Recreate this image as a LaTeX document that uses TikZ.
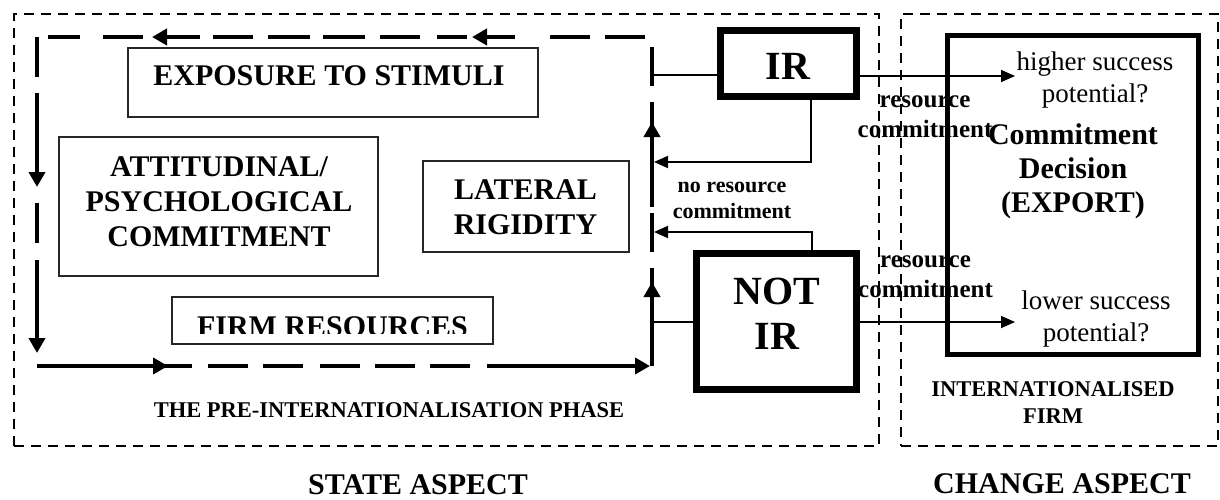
\documentclass[tikz,border=0pt]{standalone}
\usepackage{fontspec}
\setmainfont{Liberation Serif}
\usetikzlibrary{arrows.meta}
\begin{document}
\begin{tikzpicture}[x=1pt,y=-1pt,
  phaseframe/.style={draw,line width=2.8pt,dash pattern=on 10pt off 7pt,inner sep=0pt,minimum height=432pt},
  loopdash/.style={line width=4.4pt},
  looparrow/.style={line width=4.4pt,-{Triangle[length=15pt,width=16pt]}},
  factorbox/.style={draw=black!85,line width=1.8pt,inner sep=0pt},
  factortext/.style={font=\fontsize{30}{35}\selectfont\bfseries,align=center,inner sep=0pt},
  statebox/.style={draw,line width=7pt,inner sep=0pt},
  statetext/.style={font=\fontsize{40}{45}\selectfont\bfseries,align=center,inner sep=0pt},
  decisionbox/.style={draw,line width=5pt,inner sep=0pt},
  link/.style={line width=1.8pt},
  linkarrow/.style={line width=1.8pt,-{Triangle[length=14pt,width=12pt]}},
  flowlabel/.style={font=\fontsize{25}{30}\selectfont\bfseries,align=center,inner sep=0pt},
  outcome/.style={font=\fontsize{27}{32}\selectfont,align=center,inner sep=0pt},
  decisiontext/.style={font=\fontsize{30}{34}\selectfont\bfseries,align=center,inner sep=0pt},
  phasetext/.style={font=\fontsize{22.5}{27}\selectfont\bfseries,align=center,inner sep=0pt},
  aspecttext/.style={font=\fontsize{30}{35}\selectfont\bfseries,inner sep=0pt}
]
\useasboundingbox (0,0) rectangle (1220,500);

% the two phases
\node[phaseframe,minimum width=865pt] (statephase) at (446.5,230) {};
\node[phaseframe,minimum width=317pt] (changephase) at (1059.5,230) {};

% state factors of the pre-internationalisation firm
\node[factorbox,minimum width=410pt,minimum height=69pt] (stimuli) at (333,82.5) {};
\node[factortext] (stimulitext) at (329,76) {EXPOSURE TO STIMULI};
\node[factorbox,minimum width=319pt,minimum height=139pt] (attitude) at (218.5,206.5) {};
\node[factortext] (attitudetext) at (219,201.5) {ATTITUDINAL/\\PSYCHOLOGICAL\\COMMITMENT};
\node[factorbox,minimum width=206pt,minimum height=91pt] (lateral) at (526,206.5) {};
\node[factortext] (lateraltext) at (525.5,207.5) {LATERAL\\RIGIDITY};
\node[factorbox,minimum width=321pt,minimum height=47pt] (resources) at (332.5,320.5) {};
\begin{scope}
  \clip (150,290) rectangle (510,333.5);
  \node[factortext,anchor=base] (resourcestext) at (332.5,336) {FIRM RESOURCES};
\end{scope}

% feedback loop around the state factors
\foreach \a/\b in {48/80,103/143,213/253,268/310,323/365,380/420,437/467,550/590,605/645}
  \draw[loopdash] (\a,37) -- (\b,37);
\draw[looparrow] (200,37) -- (152,37);
\draw[looparrow] (515,37) -- (472,37);
\draw[loopdash] (37,37) -- (37,77);
\draw[looparrow] (37,93) -- (37,187);
\draw[loopdash] (37,203) -- (37,243);
\draw[looparrow] (37,260) -- (37,353);
\draw[loopdash] (37,366) -- (192,366);
\draw[looparrow] (37,366) -- (168,366);
\foreach \a/\b in {208/248,263/303,320/360,375/415,430/470}
  \draw[loopdash] (\a,366) -- (\b,366);
\draw[looparrow] (487,366) -- (650,366);
\draw[loopdash] (652,47) -- (652,86);
\draw[loopdash] (652,102) -- (652,207);
\draw[looparrow] (652,207) -- (652,122);
\draw[loopdash] (652,213) -- (652,252);
\draw[loopdash] (652,268) -- (652,366);
\draw[looparrow] (652,366) -- (652,282);

% points where the decisions join the loop
\coordinate (irjoin) at (653,75);
\coordinate (irback) at (654,162);
\coordinate (nrback) at (654,232);
\coordinate (nrjoin) at (653,322);
\coordinate (hiy) at (0,76);
\coordinate (loy) at (0,322);
\coordinate (hitip) at (1015,76);
\coordinate (lotip) at (1015,322);

% internationalisation readiness
\node[statebox,minimum width=136pt,minimum height=66pt] (IR) at (788.5,63.5) {};
\node[statetext] (irtext) at (788,66.5) {IR};
\node[statebox,minimum width=160pt,minimum height=136pt] (notir) at (776.5,321.5) {};
\node[statetext] (notirtext) at (777,314) {NOT\\IR};

% commitment decision
\node[decisionbox,minimum width=251pt,minimum height=319pt] (decision) at (1073,195) {};
\node[outcome] (higher) at (1095,80) {higher success\\potential?};
\node[decisiontext] (decisiontext) at (1073,171) {Commitment\\Decision\\(EXPORT)};
\node[outcome] (lower) at (1096,319) {lower success\\potential?};

% connectors
\draw[link] (IR.west |- irjoin) -- (irjoin);
\draw[linkarrow] ([xshift=22.5pt]IR.south) |- (irback);
\draw[linkarrow] ([xshift=35.5pt]notir.north) |- (nrback);
\draw[link] (notir.west |- nrjoin) -- (nrjoin);
\draw[linkarrow] (IR.east |- hiy) -- (hitip);
\draw[linkarrow] (notir.east |- loy) -- (lotip);

% connector labels
\node[flowlabel] (rcup) at (925,117) {resource\\commitment};
\node[flowlabel] (rclow) at (925.5,277) {resource\\commitment};
\node[flowlabel,font=\fontsize{22}{26}\selectfont\bfseries] (norc) at (732,200) {no resource\\commitment};

% phase captions
\node[phasetext] (prephase) at (389,410.5) {THE PRE-INTERNATIONALISATION PHASE};
\node[phasetext] (intfirm) at (1053,402.5) {INTERNATIONALISED\\FIRM};
\node[aspecttext] (stateaspect) at (418,485) {STATE ASPECT};
\node[aspecttext] (changeaspect) at (1062,484) {CHANGE ASPECT};
\end{tikzpicture}
\end{document}
